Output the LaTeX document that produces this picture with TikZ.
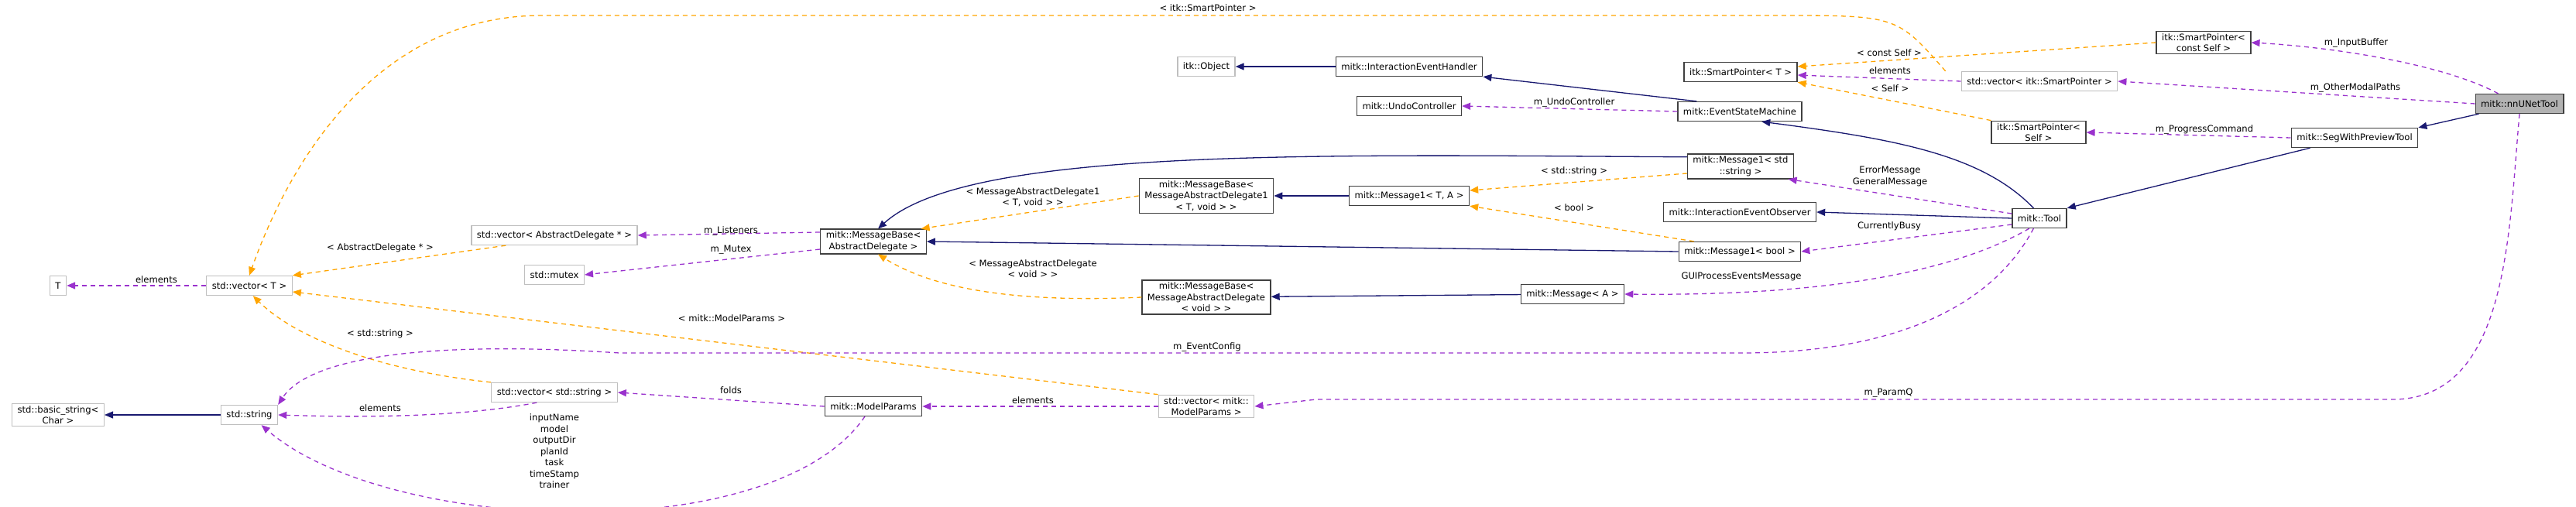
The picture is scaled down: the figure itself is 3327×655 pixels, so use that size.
\documentclass[tikz,border=0pt]{standalone}
\usepackage{fontspec}
\setmainfont{DejaVu Sans}
\usetikzlibrary{arrows.meta}
\definecolor{inhblue}{HTML}{191970}
\definecolor{mempurple}{HTML}{9A32CD}
\definecolor{tplorange}{HTML}{FFA500}
\tikzset{
  cls/.style={draw=black!75,line width=1.3pt,fill=white,minimum height=25pt,inner xsep=7pt,inner ysep=3pt,align=center,font=\fontsize{11.6}{14.5}\selectfont},
  ext/.style={cls,draw=black!25},
  root/.style={cls,fill=black!30},
  lbl/.style={font=\fontsize{11.6}{14.5}\selectfont,align=center,inner sep=1pt},
  inh/.style={draw=inhblue,line width=1.3pt,-{Triangle[length=11pt,width=9pt]}},
  mem/.style={draw=mempurple,line width=1.3pt,dash pattern=on 6pt off 5pt,-{Triangle[length=11pt,width=9pt]}},
  tpl/.style={mem,draw=tplorange},
}
\begin{document}
\begin{tikzpicture}[x=1pt,y=-1pt]
\useasboundingbox (0,0) rectangle (3327,655);

% nodes
\node[ext] (T) at (75,369) {T};
\node[ext] (vecT) at (322,369) {std::vector< T >};
\node[ext] (vecAD) at (716,304) {std::vector< AbstractDelegate * >};
\node[ext] (mutex) at (716,355) {std::mutex};
\node[ext] (bstring) at (75,536) {std::basic\_string<\\Char >};
\node[ext] (string) at (322,536) {std::string};
\node[ext] (vecString) at (716,507) {std::vector< std::string >};
\node[cls] (MBAD) at (1128,312) {mitk::MessageBase<\\AbstractDelegate >};
\node[cls] (MBMAD1) at (1558,253) {mitk::MessageBase<\\MessageAbstractDelegate1\\< T, void > >};
\node[cls] (MBMADv) at (1558,384) {mitk::MessageBase<\\MessageAbstractDelegate\\< void > >};
\node[cls] (M1TA) at (1820,253) {mitk::Message1< T, A >};
\node[cls] (MA) at (2031,380) {mitk::Message< A >};
\node[cls] (MP) at (1128,525) {mitk::ModelParams};
\node[ext] (vecMP) at (1558,525) {std::vector< mitk::\\ModelParams >};
\node[ext] (itkObj) at (1558,86) {itk::Object};
\node[cls] (IEH) at (1820,86) {mitk::InteractionEventHandler};
\node[cls] (Undo) at (1820,137) {mitk::UndoController};
\node[cls] (SPT) at (2248,93) {itk::SmartPointer< T >};
\node[cls] (ESM) at (2247,144) {mitk::EventStateMachine};
\node[cls] (M1str) at (2248,215) {mitk::Message1< std\\::string >};
\node[cls] (IEO) at (2247,274) {mitk::InteractionEventObserver};
\node[cls] (M1bool) at (2247,325) {mitk::Message1< bool >};
\node[cls] (Tool) at (2634,282) {mitk::Tool};
\node[cls] (SPSelf) at (2633,171) {itk::SmartPointer<\\Self >};
\node[ext] (vecSP) at (2634,105) {std::vector< itk::SmartPointer >};
\node[cls] (SPcSelf) at (2846,55) {itk::SmartPointer<\\const Self >};
\node[cls] (SegWPT) at (3041,178) {mitk::SegWithPreviewTool};
\node[root] (nnUNet) at (3254,134) {mitk::nnUNetTool};

% left part
\draw[mem] (vecT) -- (T);
\node[lbl] at (202,361) {elements};
\draw[inh] (string) -- (bstring);
\draw[tpl] (vecAD.south west) ++(45,0) -- (vecT.north east);
\node[lbl] at (491,320) {< AbstractDelegate * >};
\draw[tpl] (vecMP.north west) -- (vecT.east |- 0,377);
\node[lbl] at (945,411) {< mitk::ModelParams >};
\draw[tpl] (vecString.north west) .. controls (500,480) and (385,440) .. (vecT.-70);
\node[lbl] at (491,431) {< std::string >};
\draw[tpl] (vecSP.north west) ++(-20,0) .. controls (2450,20) .. (2296,20) -- (700,20) .. controls (480,20) and (370,220) .. (vecT.north);
\node[lbl] at (1560,10) {< itk::SmartPointer >};
\draw[mem] (vecString.210) .. controls (600,538) and (480,540) .. (string.east);
\node[lbl] at (491,527) {elements};
\draw[mem] (MP.230) .. controls (1000,710) and (500,690) .. (string.-40);
\node[lbl] at (716,583) {inputName\\model\\outputDir\\planId\\task\\timeStamp\\trainer};
\draw[mem] (Tool.-120) .. controls (2560,420) and (2400,456) .. (2250,456) -- (800,456) .. controls (560,440) and (400,460) .. (string.north east);
\node[lbl] at (1559,448) {m\_EventConfig};
\draw[mem] (MP.west) -- (vecString.east);
\node[lbl] at (944,504) {folds};
\draw[mem] (MBAD.west |- 0,300) -- (vecAD.east);
\node[lbl] at (944,298) {m\_Listeners};
\draw[mem] (MBAD.west |- 0,322) -- (mutex.east);
\node[lbl] at (944,323) {m\_Mutex};

% message classes
\draw[tpl] (MBMAD1.west) -- (MBAD.15);
\node[lbl] at (1334,255) {< MessageAbstractDelegate1\\< T, void > >};
\draw[tpl] (MBMADv.west) .. controls (1300,392) and (1200,370) .. (MBAD.-70);
\node[lbl] at (1334,347) {< MessageAbstractDelegate\\< void > >};
\draw[inh] (M1TA) -- (MBMAD1);
\draw[inh] (MA) -- (MBMADv);
\draw[inh] (M1str.170) .. controls (1700,200) and (1250,190) .. (MBAD.70);
\draw[inh] (M1bool.west) -- (MBAD.east);
\draw[tpl] (M1str.west |- 0,224) -- (M1TA.east |- 0,246);
\node[lbl] at (2033,221) {< std::string >};
\draw[tpl] (M1bool.north west) ++(20,0) -- (M1TA.south east);
\node[lbl] at (2033,268) {< bool >};

% upper part
\draw[inh] (IEH) -- (itkObj);
\draw[inh] (ESM.north west) ++(25,0) -- (IEH.south east);
\draw[mem] (ESM.west) -- (Undo.east);
\node[lbl] at (2033,132) {m\_UndoController};
\draw[inh] (Tool.120) .. controls (2560,200) and (2450,180) .. (ESM.-25);
\draw[mem] (Tool.west |- 0,276) -- (M1str.-15);
\node[lbl] at (2441,228) {ErrorMessage\\GeneralMessage};
\draw[inh] (Tool.west) -- (IEO.east);
\draw[mem] (Tool.west |- 0,290) -- (M1bool.east);
\node[lbl] at (2440,292) {CurrentlyBusy};
\draw[mem] (Tool.-135) .. controls (2500,365) and (2300,382) .. (MA.east);
\node[lbl] at (2249,357) {GUIProcessEventsMessage};
\draw[inh] (SegWPT.south west) ++(25,0) -- (Tool.north east);
\draw[mem] (SegWPT.west) -- (SPSelf.east);
\node[lbl] at (2847,167) {m\_ProgressCommand};
\draw[inh] (nnUNet.south west) ++(5,0) -- (SegWPT.north east);
\draw[mem] (nnUNet.north west) ++(30,0) .. controls (3150,80) and (3000,60) .. (SPcSelf.east);
\node[lbl] at (3043,55) {m\_InputBuffer};
\draw[mem] (nnUNet.west) -- (vecSP.east);
\node[lbl] at (3042,113) {m\_OtherModalPaths};
\draw[mem] (nnUNet.south) .. controls (3240,300) and (3240,516) .. (3090,516) -- (1700,516) -- (vecMP.east);
\node[lbl] at (2439,508) {m\_ParamQ};
\draw[mem] (vecMP.west) -- (MP.east);
\node[lbl] at (1334,517) {elements};
\draw[mem] (vecSP.west) -- (SPT.east |- 0,97);
\node[lbl] at (2441,91) {elements};
\draw[tpl] (SPcSelf.west) -- (SPT.east |- 0,86);
\node[lbl] at (2440,68) {< const Self >};
\draw[tpl] (SPSelf.north west) -- (SPT.south east);
\node[lbl] at (2441,114) {< Self >};
\end{tikzpicture}
\end{document}
